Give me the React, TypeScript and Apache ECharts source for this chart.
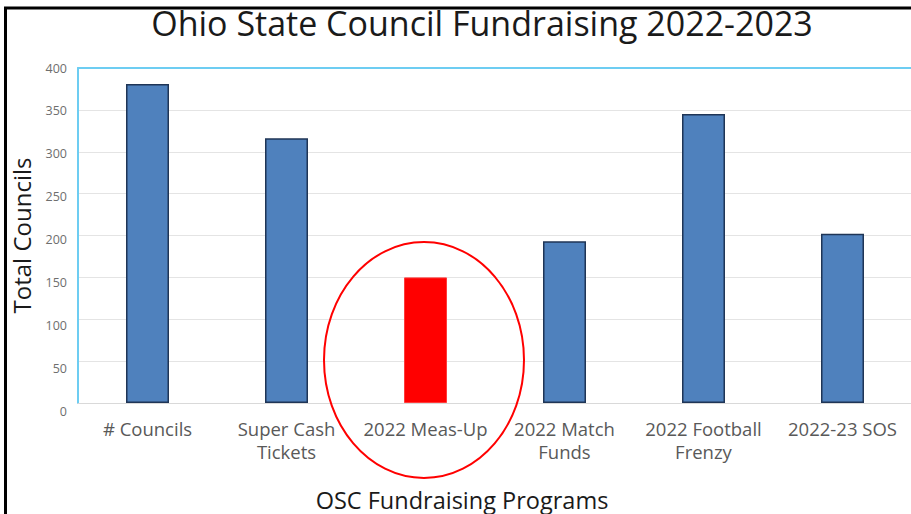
import React, { useEffect, useRef } from "react";
import * as echarts from "echarts";

const categories = [
  "# Councils",
  "Super Cash\nTickets",
  "2022 Meas-Up",
  "2022 Match\nFunds",
  "2022 Football\nFrenzy",
  "2022-23 SOS",
];
const values = [381, 316, 150, 193, 345, 202];
const highlightIndex = 2;
const yTicks = { min: 0, max: 400, interval: 50 };

export default function App() {
  const ref = useRef<HTMLDivElement>(null);
  useEffect(() => {
    if (!ref.current) return;
    const chart = echarts.init(ref.current, null, { renderer: "svg" });
    const font = "'Open Sans', 'Liberation Sans', Arial, sans-serif";
    chart.setOption({
      animation: false,
      backgroundColor: "#ffffff",
      textStyle: { fontFamily: font },
      title: [
        {
          text: "Ohio State Council Fundraising 2022-2023",
          left: 477,
          top: 1,
          textAlign: "center",
          textStyle: { fontSize: 34, fontWeight: "normal", color: "#1a1a1a", fontFamily: font },
        },
        {
          text: "OSC Fundraising Programs",
          left: 457,
          top: 483,
          textAlign: "center",
          textStyle: { fontSize: 23.5, fontWeight: "normal", color: "#1a1a1a", fontFamily: font },
        },
      ],
      grid: [
        { left: 78, top: 68, width: 834, height: 335, outerBoundsMode: "none", containLabel: false },
        { left: 78, top: 68, width: 834, height: 343, outerBoundsMode: "none", containLabel: false },
      ],
      xAxis: [
        {
          type: "category",
          gridIndex: 0,
          data: categories,
          axisLine: { show: true, lineStyle: { color: "#d9d9d9", width: 1 } },
          axisTick: { show: false },
          axisLabel: {
            color: "#595959",
            fontSize: 18.5,
            lineHeight: 23,
            margin: 14,
            interval: 0,
            fontFamily: font,
          },
        },
        {
          type: "category",
          gridIndex: 0,
          position: "top",
          data: categories,
          axisLine: { show: true, lineStyle: { color: "#6dcdf2", width: 2 } },
          axisTick: { show: false },
          axisLabel: { show: false },
        },
        { type: "value", gridIndex: 1, show: false, min: 0, max: 1 },
      ],
      yAxis: [
        {
          type: "value",
          gridIndex: 0,
          min: yTicks.min,
          max: yTicks.max,
          interval: yTicks.interval,
          name: "Total Councils",
          nameLocation: "middle",
          nameGap: 45,
          nameRotate: 90,
          nameTextStyle: { fontSize: 24, color: "#1a1a1a", fontFamily: font },
          axisLine: { show: true, lineStyle: { color: "#6dcdf2", width: 2 } },
          axisTick: { show: false },
          axisLabel: { show: false },
          splitLine: { show: true, lineStyle: { color: "#e4e4e4", width: 1 } },
        },
        {
          type: "value",
          gridIndex: 1,
          min: yTicks.min,
          max: yTicks.max,
          interval: yTicks.interval,
          axisLine: { show: false },
          axisTick: { show: false },
          splitLine: { show: false },
          axisLabel: { color: "#6e6e6e", fontSize: 12.5, margin: 11, fontFamily: font },
        },
      ],
      series: [
        {
          type: "bar",
          xAxisIndex: 0,
          yAxisIndex: 0,
          barWidth: 43,
          data: values.map((v, i) =>
            i === highlightIndex
              ? { value: v, itemStyle: { color: "#ff0000", borderColor: "#ff3b3b", borderWidth: 1 } }
              : { value: v, itemStyle: { color: "#4f81bd", borderColor: "#1f3556", borderWidth: 1.5 } }
          ),
        },
      ],
      graphic: [
        {
          type: "ellipse",
          shape: { cx: 424, cy: 360, rx: 100, ry: 118 },
          style: { fill: "none", stroke: "#ff0000", lineWidth: 2 },
          z: 10,
        },
        {
          type: "rect",
          shape: { x: 5.5, y: 8, width: 1000, height: 1000 },
          style: { fill: "none", stroke: "#000000", lineWidth: 3 },
          z: 10,
        },
      ],
    });
    return () => chart.dispose();
  }, []);
  return (
    <div
      ref={ref}
      style={{ position: "absolute", left: 0, top: 0, width: 911, height: 514 }}
    />
  );
}
